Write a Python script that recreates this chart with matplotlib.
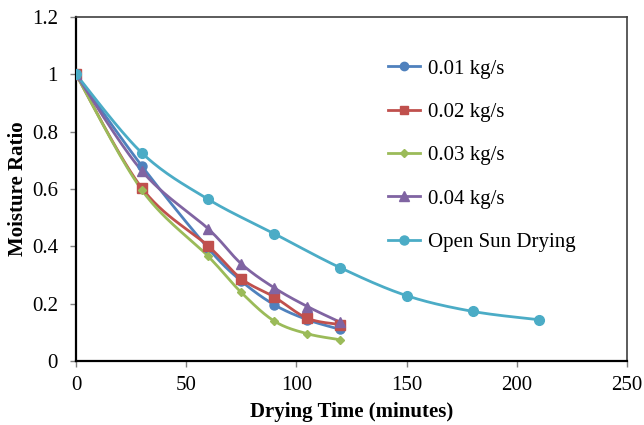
import numpy as np
import matplotlib
matplotlib.use("Agg")
import matplotlib.pyplot as plt
from matplotlib.lines import Line2D

plt.rcParams['font.family'] = ['Liberation Serif', 'DejaVu Serif']

# Drying time (minutes)
time_dryer = [0, 30, 60, 75, 90, 105, 120]
time_sun = [0, 30, 60, 90, 120, 150, 180, 210]

# Moisture ratio for each air mass flow rate
mr_001 = [1.0, 0.679, 0.393, 0.279, 0.196, 0.144, 0.110]
mr_002 = [1.0, 0.602, 0.401, 0.287, 0.223, 0.149, 0.127]
mr_003 = [1.0, 0.595, 0.365, 0.239, 0.139, 0.095, 0.074]
mr_004 = [1.0, 0.662, 0.461, 0.339, 0.255, 0.190, 0.135]
mr_sun = [1.0, 0.725, 0.564, 0.444, 0.325, 0.228, 0.173, 0.144]

labels = ['0.01 kg/s', '0.02 kg/s', '0.03 kg/s', '0.04 kg/s', 'Open Sun Drying']
colors = ['#4F81BD', '#C0504D', '#9BBB59', '#8064A2', '#4BACC6']
markers = ['o', 's', 'D', '^', 'o']
msizes = [6.5, 6.5, 4.5, 7, 7]


def smooth(x, y, n=30):
    """Catmull-Rom style cubic Bezier smoothing through all points."""
    x = np.asarray(x, float)
    y = np.asarray(y, float)
    px, py = [], []
    m = len(x)
    for i in range(m - 1):
        x0, y0 = (x[i - 1], y[i - 1]) if i > 0 else (x[i], y[i])
        x1, y1 = x[i], y[i]
        x2, y2 = x[i + 1], y[i + 1]
        x3, y3 = (x[i + 2], y[i + 2]) if i + 2 < m else (x2, y2)
        c1x, c1y = x1 + (x2 - x0) / 6, y1 + (y2 - y0) / 6
        c2x, c2y = x2 - (x3 - x1) / 6, y2 - (y3 - y1) / 6
        t = np.linspace(0, 1, n)
        bx = (1 - t) ** 3 * x1 + 3 * (1 - t) ** 2 * t * c1x + 3 * (1 - t) * t ** 2 * c2x + t ** 3 * x2
        by = (1 - t) ** 3 * y1 + 3 * (1 - t) ** 2 * t * c1y + 3 * (1 - t) * t ** 2 * c2y + t ** 3 * y2
        px.extend(bx)
        py.extend(by)
    return np.array(px), np.array(py)


fig = plt.figure(figsize=(6.44, 4.25), dpi=100)
ax = fig.add_axes([0.118, 0.1506, 0.8556, 0.8094])

series = [(time_dryer, mr_001), (time_dryer, mr_002), (time_dryer, mr_003),
          (time_dryer, mr_004), (time_sun, mr_sun)]

handles = []
for (tx, ty), lab, c, mk, ms in zip(series, labels, colors, markers, msizes):
    sx, sy = smooth(tx, ty)
    ax.plot(sx, sy, color=c, lw=2.0, solid_capstyle='round', zorder=2)
    ax.plot(tx, ty, linestyle='none', marker=mk, color=c, markersize=ms, zorder=3)
    handles.append(Line2D([0], [0], color=c, lw=2.0, marker=mk, markersize=ms - 0.5))

ax.set_xlim(0, 250)
ax.set_ylim(0, 1.2)
ax.set_xticks([0, 50, 100, 150, 200, 250])
ax.set_yticks([0, 0.2, 0.4, 0.6, 0.8, 1.0, 1.2])
ax.set_yticklabels(['0', '0.2', '0.4', '0.6', '0.8', '1', '1.2'])
ax.tick_params(axis='both', direction='out', length=4, width=1, color='#808080',
               labelsize=15)
ax.tick_params(axis='x', pad=7)
ax.tick_params(axis='y', pad=9)

for side in ['left', 'bottom']:
    ax.spines[side].set_color('black')
    ax.spines[side].set_linewidth(1.6)
for side in ['top', 'right']:
    ax.spines[side].set_color('#404040')
    ax.spines[side].set_linewidth(1.2)

ax.set_xlabel('Drying Time (minutes)', fontsize=15, fontweight='bold', labelpad=5)
ax.set_ylabel('Moisture Ratio', fontsize=15, fontweight='bold', labelpad=3)

fig.legend(handles, labels, loc='upper left', bbox_to_anchor=(388 / 644, 1 - 59 / 425),
           bbox_transform=fig.transFigure, frameon=False, fontsize=15,
           handlelength=1.55, handletextpad=0.35, labelspacing=1.14,
           borderpad=0, borderaxespad=0)

fig.savefig('out.png', dpi=100)
